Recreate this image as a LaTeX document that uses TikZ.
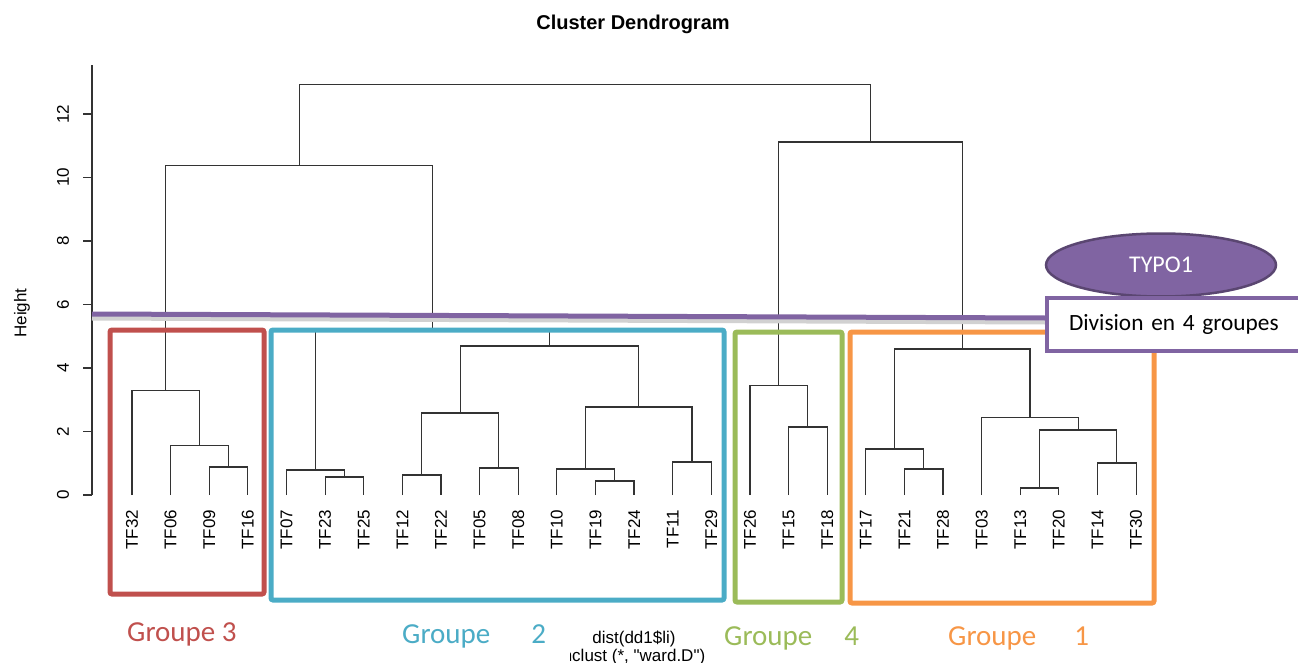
\documentclass[tikz,border=0pt]{standalone}
\usepackage{fontspec}
\setmainfont{Liberation Sans}
\newfontfamily\calibri{Carlito}
\usepackage{tikz}
\usetikzlibrary{shapes,calc}

\definecolor{rouge}{HTML}{C0504D}
\definecolor{bleu}{HTML}{4BACC6}
\definecolor{vert}{HTML}{9BBB59}
\definecolor{orangeg}{HTML}{F79646}
\definecolor{typo}{HTML}{8064A2}

\tikzset{
  branche/.style={draw=black!80, line width=1.2pt},
  groupe/.style={line width=5pt, rounded corners=2pt},
  etiquette/.style={anchor=base west, inner sep=0pt, font=\calibri\fontsize{29}{30}\selectfont},
  feuille/.style={rotate=90, anchor=east, inner sep=0pt, font=\fontsize{17}{18}\selectfont},
  graduation/.style={rotate=90, font=\fontsize{17}{18}\selectfont},
}

\newcommand{\MergeNodes}[4]{%
  \coordinate (tmp) at ($(#2)!0.5!(#3)$);
  \coordinate (#1) at (tmp |- 0,#4);
  \draw[branche] (#2) |- (#1) -| (#3);
}

\begin{document}
\begin{tikzpicture}[x=1pt, y=-1pt]
    \useasboundingbox (0,0) rectangle (1298,663);
    \node[font=\bfseries\fontsize{20}{22}\selectfont] (titre) at (633,24) {Cluster Dendrogram};
    \begin{scope}[shift={(0,495)}, y=31.75pt]
        %\draw[help lines] (92,0) grid (1140,13);
        \coordinate (axe bas) at (92,0);
        \coordinate (axe haut) at (92,13.54);
        \draw[branche] (axe bas) -- (axe haut);
        \foreach \h in {0,2,...,12} {
            \coordinate (tick\h) at (92,\h);
            \draw[branche] (tick\h) -- ++(-9pt,0);
            \node[graduation] (label\h) at (63,\h) {\h};
        }
        \node[graduation] (hauteur) at (22,5.73) {Height};
        \foreach \n [count=\i from 0] in {32,06,09,16,07,23,25,12,22,05,08,10,19,24,11,29,26,15,18,17,21,28,03,13,20,14,30} {
            \coordinate (TF\n) at (132+38.62*\i,0);
            \node[feuille] (lab\n) at (132+38.62*\i,-0.46) {TF\n};
        }
        \MergeNodes{m1}{TF09}{TF16}{0.88}
        \MergeNodes{m2}{TF06}{m1}{1.57}
        \MergeNodes{g3}{TF32}{m2}{3.28}
        \MergeNodes{m3}{TF23}{TF25}{0.57}
        \MergeNodes{m4}{TF07}{m3}{0.79}
        \MergeNodes{m5}{TF12}{TF22}{0.63}
        \MergeNodes{m6}{TF05}{TF08}{0.85}
        \MergeNodes{m7}{m5}{m6}{2.58}
        \MergeNodes{m8}{TF19}{TF24}{0.44}
        \MergeNodes{m9}{TF10}{m8}{0.82}
        \MergeNodes{m10}{TF11}{TF29}{1.04}
        \MergeNodes{m11}{m9}{m10}{2.77}
        \MergeNodes{m12}{m7}{m11}{4.69}
        \MergeNodes{g2}{m4}{m12}{5.2}
        \MergeNodes{g32}{g3}{g2}{10.39}
        \MergeNodes{m13}{TF15}{TF18}{2.14}
        \MergeNodes{g4}{TF26}{m13}{3.46}
        \MergeNodes{m14}{TF21}{TF28}{0.82}
        \MergeNodes{m15}{TF17}{m14}{1.45}
        \MergeNodes{m16}{TF13}{TF20}{0.22}
        \MergeNodes{m17}{TF14}{TF30}{1.01}
        \MergeNodes{m18}{m16}{m17}{2.05}
        \MergeNodes{m19}{TF03}{m18}{2.43}
        \MergeNodes{g1}{m15}{m19}{4.6}
        \MergeNodes{g41}{g4}{g1}{11.12}
        \MergeNodes{racine}{g32}{g41}{12.94}
    \end{scope}
    % coupe
    \coordinate (coupe g) at (92,314);
    \coordinate (coupe d) at (1045,318);
    \draw[black!18, line width=5pt] ([yshift=-4pt]coupe g) -- ([yshift=-4pt]coupe d);
    \draw[typo, line width=5pt] (coupe g) -- (coupe d);
    % groupes
    \draw[groupe, rouge] (110,330) rectangle (264,594);
    \draw[groupe, bleu] (271,330) rectangle (724,600);
    \draw[groupe, vert] (735,332) rectangle (842,602);
    \draw[groupe, orangeg] (850,332) rectangle (1154,603);
    \node[anchor=base, font=\fontsize{17}{18}\selectfont] (dist) at (634,643) {dist(dd1\$li)};
    \node[anchor=base, font=\fontsize{17}{18}\selectfont] (hclust) at (634,661) {hclust (*, \textquotedbl ward.D\textquotedbl)};
    \node[etiquette, rouge] (groupe3) at (127,641) {Groupe 3};
    \node[etiquette, bleu, fill=white, minimum height=52pt] (groupe2) at (402,643) {Groupe\hspace{41pt}2\rule{24pt}{0pt}};
    \node[etiquette, vert] (groupe4) at (724,645) {Groupe\hspace{32pt}4};
    \node[etiquette, orangeg] (groupe1) at (948,645) {Groupe\hspace{38pt}1};
    \node[ellipse, fill=typo, draw=typo!70!black, line width=2.5pt, minimum width=230pt, minimum height=63pt,
          text=white, font=\calibri\fontsize{24}{26}\selectfont] (typo1) at (1161,265) {TYPO1};
    \node[anchor=north west, draw=typo, fill=white, line width=4pt, minimum height=53pt, text width=240pt,
          inner xsep=22pt, align=left, font=\calibri\fontsize{23.3}{25}\selectfont] (division) at (1045,296) {Division en 4 groupes};
\end{tikzpicture}
\end{document}
